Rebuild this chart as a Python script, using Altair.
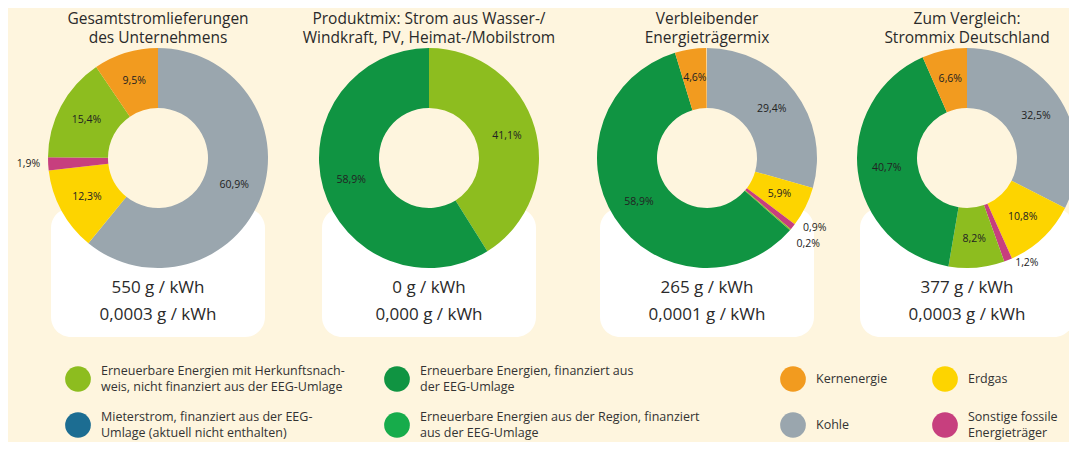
import altair as alt
import pandas as pd

# ---------------- data ----------------
panel_titles = [
    "Gesamtstromlieferungen\ndes Unternehmens",
    "Produktmix: Strom aus Wasser-/\nWindkraft, PV, Heimat-/Mobilstrom",
    "Verbleibender\nEnergieträgermix",
    "Zum Vergleich:\nStrommix Deutschland",
]
co2_values = ["550 g / kWh", "0 g / kWh", "265 g / kWh", "377 g / kWh"]
waste_values = ["0,0003 g / kWh", "0,000 g / kWh", "0,0001 g / kWh", "0,0003 g / kWh"]

categories = [
    "Erneuerbare Energien mit Herkunftsnach-|weis, nicht finanziert aus der EEG-Umlage",
    "Erneuerbare Energien, finanziert aus|der EEG-Umlage",
    "Kernenergie",
    "Erdgas",
    "Mieterstrom, finanziert aus der EEG-|Umlage (aktuell nicht  enthalten)",
    "Erneuerbare Energien aus der Region, finanziert|aus der EEG-Umlage",
    "Kohle",
    "Sonstige fossile|Energieträger",
]
colors = ["#8dbd1f", "#109442", "#f29b1f", "#fdd400", "#1c6d92", "#17ac4b", "#9aa6ae", "#c73f7e"]

# slices, clockwise from 12 o'clock (category index into `categories`)
mix_company_cats = [6, 3, 7, 0, 2]
mix_company_vals = [60.9, 12.3, 1.9, 15.4, 9.5]
mix_product_cats = [0, 1]
mix_product_vals = [41.1, 58.9]
mix_rest_cats = [6, 3, 7, 0, 1, 2]
mix_rest_vals = [29.4, 5.9, 0.9, 0.2, 58.9, 4.6]
mix_de_cats = [6, 3, 7, 0, 1, 2]
mix_de_vals = [32.5, 10.8, 1.2, 8.2, 40.7, 6.6]

mixes = [
    (mix_company_cats, mix_company_vals),
    (mix_product_cats, mix_product_vals),
    (mix_rest_cats, mix_rest_vals),
    (mix_de_cats, mix_de_vals),
]

rows = []
for p, (cats, vals) in enumerate(mixes):
    for o, (c, v) in enumerate(zip(cats, vals)):
        rows.append({
            "panel": p,
            "order": o,
            "cat": categories[c],
            "value": v,
            "label": f"{v:.1f}".replace(".", ",") + "%",
        })
slices = pd.DataFrame(rows)

panels = pd.DataFrame({
    "panel": list(range(len(panel_titles))),
    "title1": [t.split("\n")[0] for t in panel_titles],
    "title2": [t.split("\n")[1] for t in panel_titles],
    "co2": co2_values,
    "waste": waste_values,
})

legend_df = pd.DataFrame({
    "cat": categories,
    "col": [i % 4 for i in range(len(categories))],
    "row": [i // 4 for i in range(len(categories))],
    "line1": [c.split("|")[0] for c in categories],
    "line2": [c.split("|")[1] if "|" in c else "" for c in categories],
})
legend_df["multi"] = legend_df["line2"] != ""

# ---------------- encodings ----------------
FONT = "Open Sans"
TXT = "#2a2a2a"
xs = alt.Scale(domain=[0, 1, 2, 3], range=[150, 421, 699, 959])
X = alt.X("panel:Q", scale=xs, axis=None, stack=None)
CY = 150
theta_scale = alt.Scale(domain=[0, 100], range=[0, 6.283185307179586])
color_scale = alt.Scale(domain=categories, range=colors)

base = alt.Chart(slices).transform_window(
    end="sum(value)", groupby=["panel"], sort=[alt.SortField("order")], frame=[None, 0]
).transform_calculate(
    start="datum.end - datum.value",
    mid="datum.end - datum.value / 2",
)

cards = alt.Chart(panels).mark_rect(width=214, color="white", cornerRadius=20).encode(
    x=X, y=alt.value(200), y2=alt.value(329)
)

arcs = base.mark_arc(outerRadius=110, innerRadius=50).encode(
    x=X,
    y=alt.value(CY),
    theta=alt.Theta("start:Q", scale=theta_scale, stack=None),
    theta2="end:Q",
    color=alt.Color("cat:N", scale=color_scale, legend=None),
)

def pct_text(filt, **kw):
    return base.transform_filter(filt).mark_text(
        font=FONT, fontSize=10.5, color="#222222", **kw
    ).encode(
        x=X,
        y=alt.value(CY),
        theta=alt.Theta("mid:Q", scale=theta_scale, stack=None),
        text="label:N",
    )

inner_labels = pct_text("datum.value >= 2.5", radius=81)
small_right = pct_text("datum.value < 2.5 && datum.value >= 0.5 && datum.mid < 50",
                       radius=118, align="left", dy=-4, dx=4)
small_left = pct_text("datum.value < 2.5 && datum.mid >= 50", radius=118, align="right")
tiny = pct_text("datum.value < 0.5", radius=118, align="left", dy=9)

titles1 = alt.Chart(panels).mark_text(
    font=FONT, fontSize=15.5, color=TXT, baseline="middle"
).encode(x=X, y=alt.value(11), text="title1:N")
titles2 = alt.Chart(panels).mark_text(
    font=FONT, fontSize=15.5, color=TXT, baseline="middle"
).encode(x=X, y=alt.value(30), text="title2:N")

co2 = alt.Chart(panels).mark_text(font=FONT, fontSize=17, color=TXT).encode(
    x=X, y=alt.value(280), text="co2:N"
)
waste = alt.Chart(panels).mark_text(font=FONT, fontSize=17, color=TXT).encode(
    x=X, y=alt.value(307), text="waste:N"
)

# ---------------- legend (drawn from the category list) ----------------
LX = alt.X("col:Q", scale=alt.Scale(domain=[0, 1, 2, 3], range=[70, 389, 785, 937]),
           axis=None, stack=None)
LY = alt.Y("row:Q", scale=alt.Scale(domain=[0, 1], range=[371, 417]), axis=None, stack=None)

legend_dots = alt.Chart(legend_df).mark_circle(size=660, opacity=1).encode(
    x=LX, y=LY, color=alt.Color("cat:N", scale=color_scale, legend=None)
)
LEG_TXT = dict(font=FONT, fontSize=12.5, color="#333333", align="left", baseline="middle", dx=23)
legend_single = alt.Chart(legend_df).transform_filter("!datum.multi").mark_text(
    **LEG_TXT
).encode(x=LX, y=LY, text="line1:N")
legend_top = alt.Chart(legend_df).transform_filter("datum.multi").mark_text(
    dy=-8, **LEG_TXT
).encode(x=LX, y=LY, text="line1:N")
legend_bottom = alt.Chart(legend_df).transform_filter("datum.multi").mark_text(
    dy=8, **LEG_TXT
).encode(x=LX, y=LY, text="line2:N")

chart = alt.layer(
    cards, arcs, inner_labels, small_right, small_left, tiny, titles1, titles2, co2, waste,
    legend_dots, legend_single, legend_top, legend_bottom,
).resolve_scale(
    x="independent", y="independent"
).properties(
    width=1061, height=434, padding=0, autosize=alt.AutoSizeParams(type="none")
).configure(
    background="#fef5de"
).configure_view(strokeWidth=0)

chart.save("out.html", embed_options={"renderer": "svg", "actions": False})
